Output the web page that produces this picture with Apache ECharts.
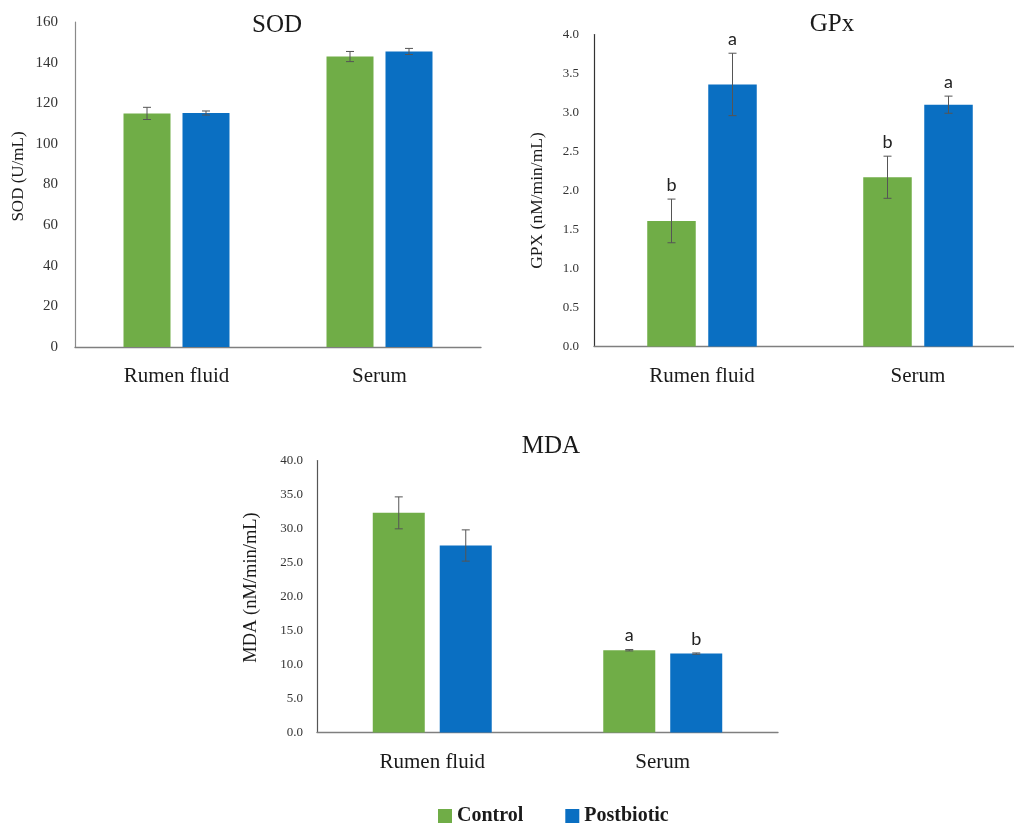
<!DOCTYPE html>
<html>
<head>
<meta charset="utf-8">
<script src="https://cdn.jsdelivr.net/npm/echarts@6/dist/echarts.min.js"></script>
<style>html,body{margin:0;padding:0;background:#fff;overflow:hidden;}#c{width:1034px;height:823px;}</style>
</head>
<body>
<div id="c"></div>
<script>
// ---- data ----
const categories = ['Rumen fluid', 'Serum'];

const sodControl = [115.0, 143.0];
const sodControlErr = [3.0, 2.5];
const sodPost = [115.2, 145.5];
const sodPostErr = [1.0, 1.5];

const gpxControl = [1.61, 2.17];
const gpxControlErr = [0.28, 0.27];
const gpxPost = [3.36, 3.10];
const gpxPostErr = [0.40, 0.11];
const gpxControlLetters = ['b', 'b'];
const gpxPostLetters = ['a', 'a'];

const mdaControl = [32.3, 12.1];
const mdaControlErr = [2.35, 0.1];
const mdaPost = [27.5, 11.6];
const mdaPostErr = [2.3, 0.1];
const mdaControlLetters = ['', 'a'];
const mdaPostLetters = ['', 'b'];

const sodTicks = { min: 0, max: 160, interval: 20, digits: 0 };
const gpxTicks = { min: 0, max: 4, interval: 0.5, digits: 1 };
const mdaTicks = { min: 0, max: 40, interval: 5, digits: 1 };

// ---- styling ----
const GREEN = '#70AD47';
const BLUE = '#0A6FC2';
const SERIF = '"Liberation Serif", "DejaVu Serif", serif';

const panels = [
  { title: 'SOD', titleX: 272, titleY: 8, yName: 'SOD (U/mL)', nameGap: 48, nameSize: 17, namePad: [0, 0, 0, 16],
    grid: { left: 75, top: 22, width: 406, height: 325 },
    ticks: sodTicks, tickSize: 15, tickMargin: 17, barW: 47, gap: 12, yColor: '#8a8a8a',
    c: sodControl, ce: sodControlErr, p: sodPost, pe: sodPostErr, cl: ['', ''], pl: ['', ''] },
  { title: 'GPx', titleX: 827, titleY: 7, yName: 'GPX (nM/min/mL)', nameGap: 48, nameSize: 17.5, namePad: [0, 20, 0, 0],
    grid: { left: 594, top: 34.5, width: 432, height: 312 },
    ticks: gpxTicks, tickSize: 13, tickMargin: 15, barW: 48.5, gap: 12.5, yColor: '#333',
    c: gpxControl, ce: gpxControlErr, p: gpxPost, pe: gpxPostErr, cl: gpxControlLetters, pl: gpxPostLetters },
  { title: 'MDA', titleX: 546, titleY: 429, yName: 'MDA (nM/min/mL)', nameGap: 56, nameSize: 18.5, namePad: [0, 0, 0, 18],
    grid: { left: 317, top: 460.5, width: 461, height: 272 },
    ticks: mdaTicks, tickSize: 13, tickMargin: 14, barW: 52, gap: 15, yColor: '#555',
    c: mdaControl, ce: mdaControlErr, p: mdaPost, pe: mdaPostErr, cl: mdaControlLetters, pl: mdaPostLetters }
];

function errSeries(idx, vals, errs, letters, offset) {
  return {
    type: 'custom', name: 'err' + idx + offset, xAxisIndex: idx, yAxisIndex: idx, z: 10,
    data: vals.map((v, i) => [i, v, errs[i]]),
    encode: { x: 0, y: 1 },
    renderItem: function (params, api) {
      const i = api.value(0), v = api.value(1), e = api.value(2);
      const letter = letters[params.dataIndex];
      const top = api.coord([i, v + e]);
      const bot = api.coord([i, v - e]);
      const x = top[0] + offset;
      const st = { stroke: '#555', lineWidth: 1 };
      const children = [
        { type: 'line', shape: { x1: x, y1: top[1], x2: x, y2: bot[1] }, style: st },
        { type: 'line', shape: { x1: x - 4, y1: top[1], x2: x + 4, y2: top[1] }, style: st },
        { type: 'line', shape: { x1: x - 4, y1: bot[1], x2: x + 4, y2: bot[1] }, style: st }
      ];
      if (letter) {
        children.push({ type: 'text', style: { text: letter, x: x, y: top[1] - 5, align: 'center', verticalAlign: 'bottom',
          font: '18px Lato, "Open Sans", sans-serif', fill: '#222' } });
      }
      return { type: 'group', children: children };
    }
  };
}

const option = {
  animation: false,
  backgroundColor: '#fff',
  title: panels.map(p => ({ text: p.title, left: p.titleX, top: p.titleY, textAlign: 'center',
    textStyle: { fontFamily: SERIF, fontSize: 25, fontWeight: 'normal', color: '#1a1a1a' } })),
  legend: {
    data: ['Control', 'Postbiotic'], left: 433, top: 801, icon: 'rect', itemWidth: 14, itemHeight: 14, itemGap: 42,
    textStyle: { fontFamily: SERIF, fontSize: 20, fontWeight: 'bold', color: '#1a1a1a' }
  },
  grid: panels.map(p => Object.assign({ containLabel: false }, p.grid)),
  xAxis: panels.map((p, i) => ({
    type: 'category', gridIndex: i, data: categories,
    axisLine: { lineStyle: { color: '#7f7f7f', width: 1.3 } }, axisTick: { show: false },
    axisLabel: { fontFamily: SERIF, fontSize: 21, color: '#1a1a1a', margin: 19 }
  })),
  yAxis: panels.map((p, i) => ({
    type: 'value', gridIndex: i, min: p.ticks.min, max: p.ticks.max, interval: p.ticks.interval,
    name: p.yName, nameLocation: 'middle', nameGap: p.nameGap,
    nameTextStyle: { fontFamily: SERIF, fontSize: p.nameSize, color: '#1a1a1a', padding: p.namePad },
    axisLine: { show: true, lineStyle: { color: p.yColor, width: 1.2 } }, axisTick: { show: false },
    splitLine: { show: false },
    axisLabel: { fontFamily: SERIF, fontSize: p.tickSize, color: '#333', margin: p.tickMargin,
      formatter: v => v.toFixed(p.ticks.digits) }
  })),
  series: []
};

panels.forEach((p, i) => {
  const gapPct = (p.gap / p.barW * 100).toFixed(1) + '%';
  option.series.push({ type: 'bar', name: 'Control', xAxisIndex: i, yAxisIndex: i, data: p.c, barWidth: p.barW, barGap: gapPct,
    itemStyle: { color: GREEN } });
  option.series.push({ type: 'bar', name: 'Postbiotic', xAxisIndex: i, yAxisIndex: i, data: p.p, barWidth: p.barW, barGap: gapPct,
    itemStyle: { color: BLUE } });
  const off = (p.barW + p.gap) / 2;
  option.series.push(errSeries(i, p.c, p.ce, p.cl, -off));
  option.series.push(errSeries(i, p.p, p.pe, p.pl, off));
});

const chart = echarts.init(document.getElementById('c'), null, { renderer: 'canvas' });
chart.setOption(option);
</script>
</body>
</html>
